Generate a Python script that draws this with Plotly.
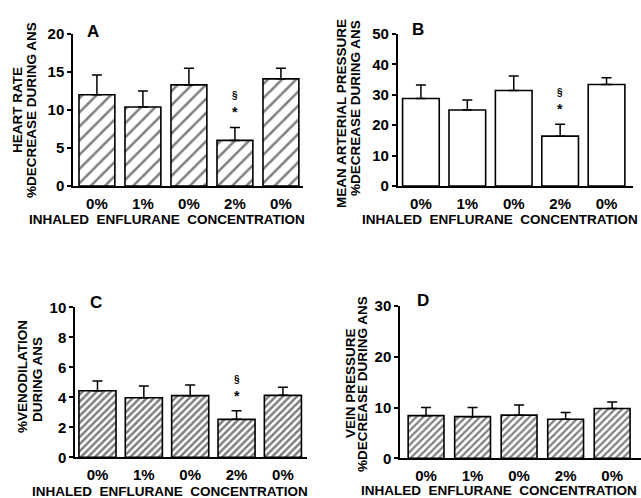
import plotly.graph_objects as go

labels = ["0%", "1%", "0%", "2%", "0%"]
positions = [0, 1, 2, 3, 4]

hr_mean = [12.0, 10.4, 13.3, 6.0, 14.1]
hr_sem = [2.6, 2.1, 2.2, 1.7, 1.4]
map_mean = [28.8, 25.0, 31.4, 16.4, 33.4]
map_sem = [4.4, 3.3, 4.8, 3.9, 2.2]
ven_mean = [4.44, 3.97, 4.11, 2.53, 4.13]
ven_sem = [0.65, 0.78, 0.71, 0.58, 0.54]
vp_mean = [8.4, 8.2, 8.5, 7.7, 9.8]
vp_sem = [1.6, 1.8, 2.0, 1.3, 1.3]

FONT = "Liberation Sans"
W, H = 641, 498
XTITLE = "INHALED  ENFLURANE  CONCENTRATION"

panels = [
    dict(key="", mean=hr_mean, sem=hr_sem, xd=[73, 303], yd=[186, 34],
         xr=[-0.52, 4.48], yr=[0, 20], dt=5, pat="/", psize=10, sol=0.25, width=0.78,
         letter="A", lpos=(93, 31),
         titles=[("HEART RATE", 18, 110), ("%DECREASE DURING ANS", 32, 110)],
         xt=(166.5, 220), sig=True),
    dict(key="2", mean=map_mean, sem=map_sem, xd=[397.7, 633], yd=[186, 34],
         xr=[-0.5, 4.57], yr=[0, 50], dt=10, pat="", psize=10, sol=0.2, width=0.79,
         letter="B", lpos=(418, 30),
         titles=[("MEAN ARTERIAL PRESSURE", 342, 114), ("%DECREASE DURING ANS", 355, 108)],
         xt=(500, 220), sig=True),
    dict(key="3", mean=ven_mean, sem=ven_sem, xd=[75, 307], yd=[457.3, 307.3],
         xr=[-0.485, 4.52], yr=[0, 10], dt=2, pat="/", psize=5, sol=0.5, width=0.8,
         letter="C", lpos=(96, 302),
         titles=[("%VENODILATION", 22, 377), ("DURING ANS", 37, 380)],
         xt=(169.5, 491.5), sig=True),
    dict(key="4", mean=vp_mean, sem=vp_sem, xd=[400, 641], yd=[458.3, 306],
         xr=[-0.56, 4.62], yr=[0, 30], dt=10, pat="/", psize=5, sol=0.45, width=0.77,
         letter="D", lpos=(423, 300),
         titles=[("VEIN PRESSURE", 350, 383), ("%DECREASE DURING ANS", 362, 384)],
         xt=(499, 490.5), sig=False),
]


def px(x):
    return x / W


def py(y):
    return 1 - y / H


fig = go.Figure()
annotations = []
layout = {}

for p in panels:
    k = p["key"]
    xa = "x" + k
    ya = "y" + k
    fig.add_trace(go.Bar(
        x=positions, y=p["mean"], width=p["width"],
        xaxis=xa, yaxis=ya,
        marker=dict(color="white", line=dict(color="black", width=1.6),
                    pattern=dict(shape=p["pat"], size=p["psize"], solidity=p["sol"],
                                 fgcolor="black", bgcolor="white", fillmode="overlay")),
        error_y=dict(type="data", array=p["sem"], arrayminus=[0] * 5, symmetric=False,
                     color="black", thickness=1.5, width=5),
        showlegend=False, hoverinfo="skip",
    ))
    layout["xaxis" + k] = dict(
        domain=[px(p["xd"][0]), px(p["xd"][1])], anchor=ya, range=p["xr"],
        tickmode="array", tickvals=positions,
        ticktext=["<b>" + t + "</b>" for t in labels],
        showline=True, linecolor="black", linewidth=1.5, ticks="",
        showgrid=False, zeroline=False, automargin=False, ticklabelstandoff=3,
        tickfont=dict(family=FONT, size=15, color="black"),
        fixedrange=True,
    )
    yt = list(range(p["yr"][0], p["yr"][1] + 1, p["dt"]))
    layout["yaxis" + k] = dict(
        domain=[py(p["yd"][0]), py(p["yd"][1])], anchor=xa, range=p["yr"],
        tickmode="array", tickvals=yt, ticktext=["<b>%d</b>" % v for v in yt],
        showline=True, linecolor="black", linewidth=1.5, ticks="outside",
        ticklen=4, tickwidth=1.5, tickcolor="black", showgrid=False, zeroline=False,
        automargin=False,
        tickfont=dict(family=FONT, size=15, color="black"),
        fixedrange=True,
    )
    annotations.append(dict(
        x=px(p["lpos"][0]), y=py(p["lpos"][1]), xref="paper", yref="paper",
        text="<b>" + p["letter"] + "</b>", showarrow=False,
        xanchor="center", yanchor="middle",
        font=dict(family=FONT, size=17, color="black"),
    ))
    for txt, tx, ty in p["titles"]:
        annotations.append(dict(
            x=px(tx), y=py(ty), xref="paper", yref="paper",
            text="<b>" + txt + "</b>", showarrow=False, textangle=-90,
            xanchor="center", yanchor="middle",
            font=dict(family=FONT, size=13.5, color="black"),
        ))
    annotations.append(dict(
        x=px(p["xt"][0]), y=py(p["xt"][1]), xref="paper", yref="paper",
        text="<b>" + XTITLE + "</b>", showarrow=False,
        xanchor="center", yanchor="middle",
        font=dict(family=FONT, size=13.5, color="black"),
    ))
    if p["sig"]:
        top = p["mean"][3] + p["sem"][3]
        span = p["yr"][1] - p["yr"][0]
        annotations.append(dict(
            x=3, y=top + span * 0.1, xref=xa, yref=ya, text="<b>*</b>", showarrow=False,
            xanchor="center", yanchor="middle",
            font=dict(family=FONT, size=14, color="black"),
        ))
        annotations.append(dict(
            x=3, y=top + span * 0.21, xref=xa, yref=ya, text="<b>§</b>", showarrow=False,
            xanchor="center", yanchor="middle",
            font=dict(family=FONT, size=10, color="black"),
        ))

fig.update_layout(
    width=W, height=H, margin=dict(l=0, r=0, t=0, b=0, pad=0),
    paper_bgcolor="white", plot_bgcolor="white",
    annotations=annotations, **layout,
)

fig.write_html(
    "out.html",
    config={"displayModeBar": False},
    post_script="document.body.style.margin='0';document.body.style.padding='0';"
                "document.body.style.overflow='hidden';",
)
